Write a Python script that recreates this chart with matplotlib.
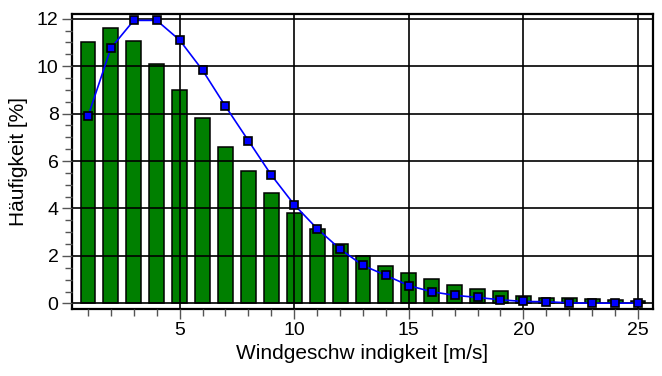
import matplotlib.pyplot as plt
from matplotlib.ticker import MultipleLocator

plt.rcParams['font.family'] = ['Liberation Sans', 'DejaVu Sans']

# wind speed classes [m/s]
speeds = list(range(1, 26))
# measured frequency (bars) [%]
measured = [11.0, 11.6, 11.08, 10.08, 8.99, 7.8, 6.61, 5.58, 4.67, 3.83,
            3.12, 2.5, 2.01, 1.59, 1.27, 1.01, 0.76, 0.59, 0.52, 0.32,
            0.24, 0.22, 0.17, 0.15, 0.12]
# fitted distribution (line) [%]
fitted = [7.88, 10.76, 11.93, 11.93, 11.1, 9.83, 8.31, 6.86, 5.41, 4.16,
          3.15, 2.29, 1.6, 1.18, 0.75, 0.49, 0.34, 0.25, 0.15, 0.08,
          0.07, 0.02, 0.01, 0.01, 0.01]

fig = plt.figure(figsize=(6.62, 3.76), dpi=100)
ax = fig.add_axes([0.1083, 0.1774, 0.8786, 0.7854])

ax.bar(speeds, measured, width=0.65, color='#007f00', edgecolor='black',
       linewidth=1.1, zorder=1)
ax.plot(speeds, fitted, color='#0000ff', linewidth=1.2, marker='s',
        markersize=6, markerfacecolor='#0000ff', markeredgecolor='black',
        markeredgewidth=1.2, zorder=3)

ax.set_xlim(0.29, 25.67)
ax.set_ylim(-0.25, 12.2)
ax.xaxis.set_major_locator(MultipleLocator(5))
ax.xaxis.set_minor_locator(MultipleLocator(1))
ax.yaxis.set_major_locator(MultipleLocator(2))
ax.yaxis.set_minor_locator(MultipleLocator(0.5))

ax.set_axisbelow(False)
ax.grid(True, which='major', color='black', linewidth=1.2, zorder=2)

ax.tick_params(which='major', direction='out', length=7.5, width=1,
               color='#555555', labelsize=14, pad=2)
ax.tick_params(which='minor', direction='out', length=5, width=1,
               color='#555555')
for s in ax.spines.values():
    s.set_linewidth(1.6)

ax.set_xlabel('Windgeschw indigkeit [m/s]', fontsize=15, labelpad=3)
ax.set_ylabel('Häufigkeit [%]', fontsize=15, labelpad=6)

fig.savefig('out.png', dpi=100)
